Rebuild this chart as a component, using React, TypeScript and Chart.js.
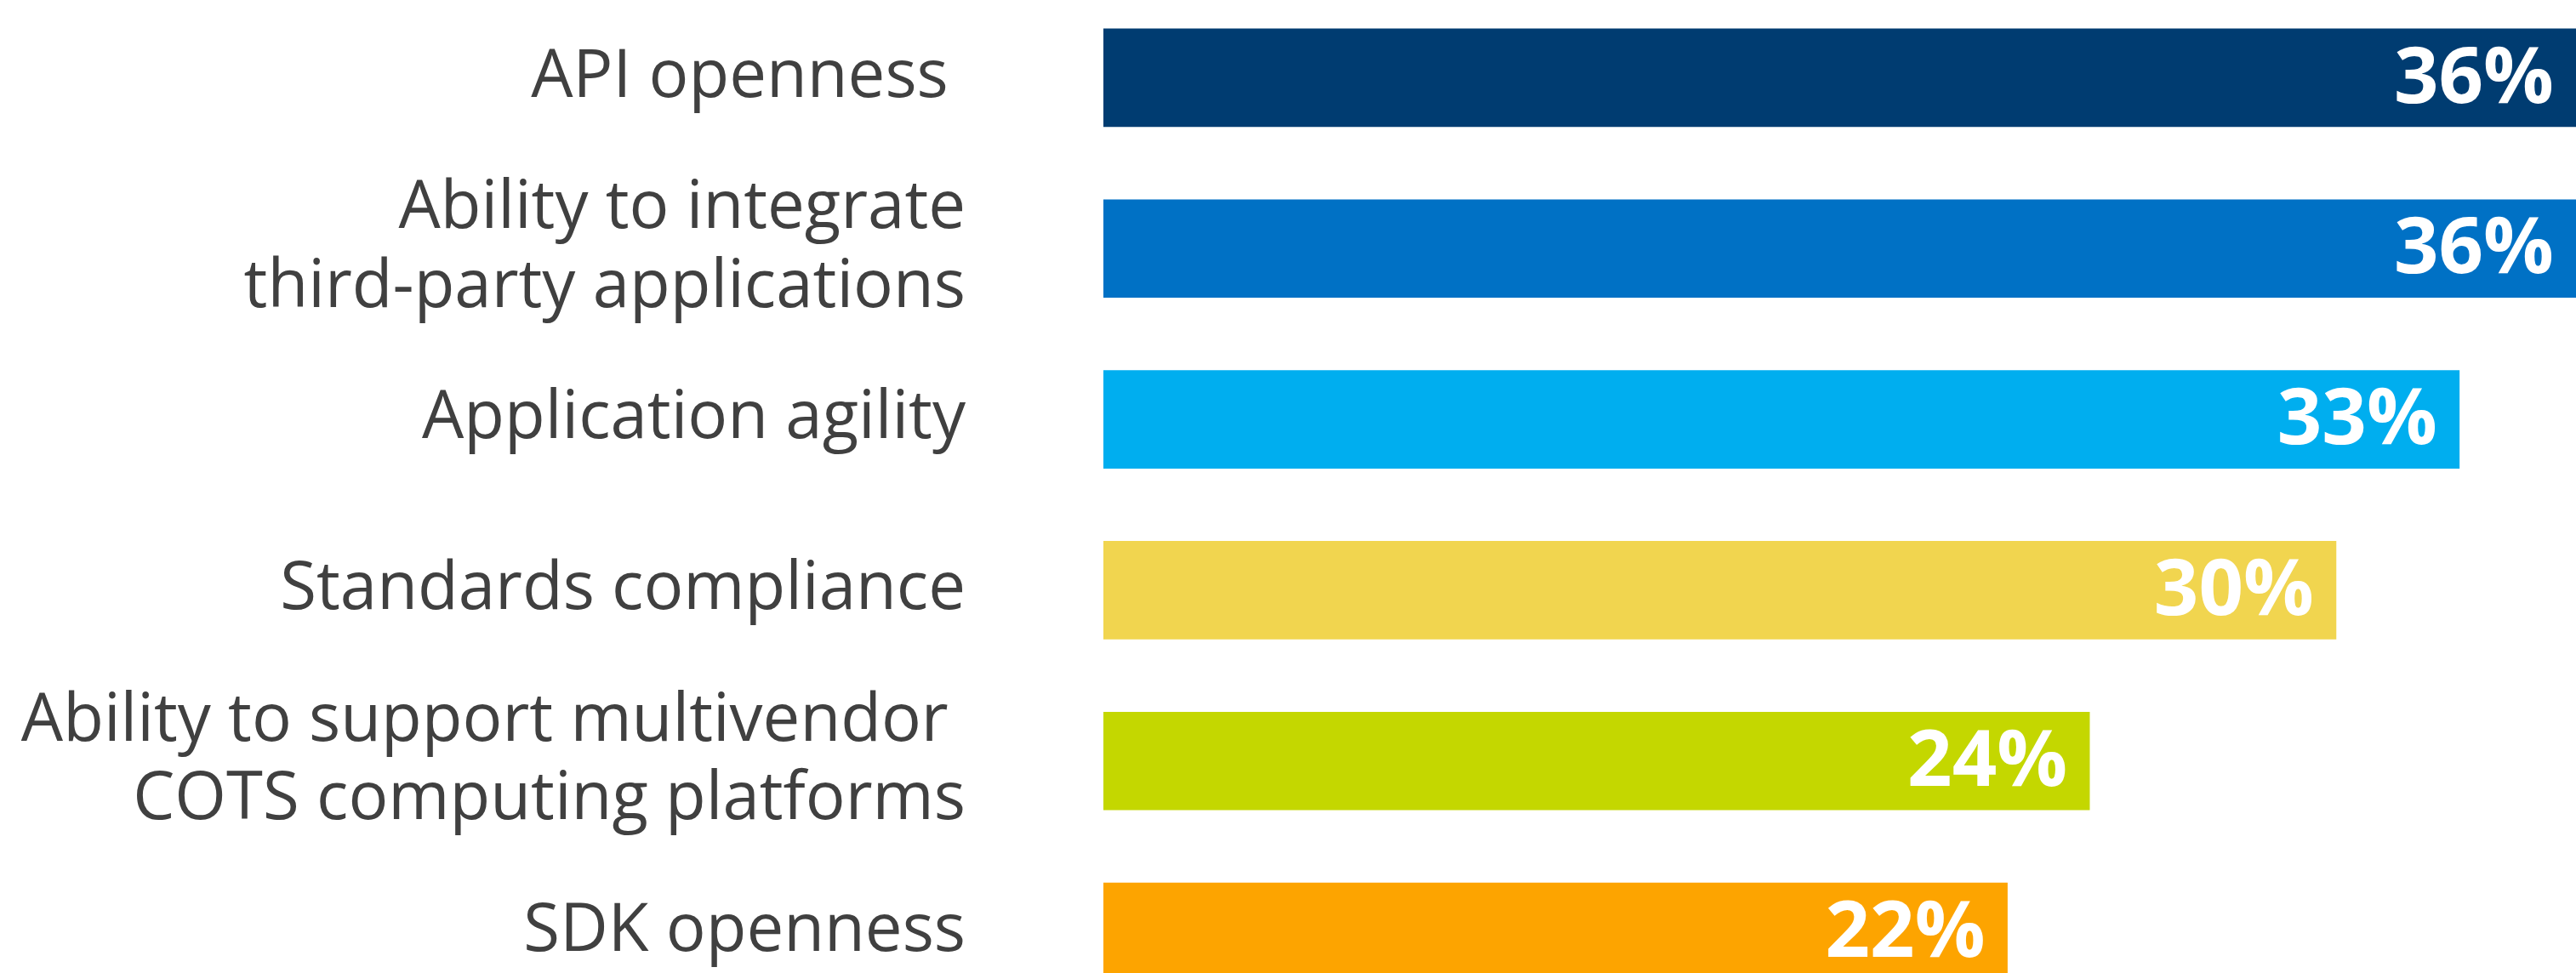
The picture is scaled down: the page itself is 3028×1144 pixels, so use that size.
import { useEffect, useRef } from "react";
import { Chart, registerables } from "chart.js";
import type { Plugin } from "chart.js";

Chart.register(...registerables);

const categories: (string | string[])[] = [
	"API openness ",
	["Ability to integrate", "third-party applications"],
	"Application agility",
	"Standards compliance",
	["Ability to support multivendor ", "COTS computing platforms"],
	"SDK openness",
];
const shares = [36, 36, 33, 30, 24, 22];
const barColors = ["#003C71", "#0071C5", "#00AEEF", "#F1D54F", "#C4D700", "#FDA400"];

const valueLabels: Plugin<"bar"> = {
	id: "valueLabels",
	afterDatasetsDraw(chart) {
		const { ctx, chartArea } = chart;
		const meta = chart.getDatasetMeta(0);
		ctx.save();
		ctx.font = "bold 92px 'Open Sans'";
		ctx.fillStyle = "#ffffff";
		ctx.textAlign = "right";
		ctx.textBaseline = "middle";
		meta.data.forEach((bar, i) => {
			const { x, y } = bar.getProps(["x", "y"], true) as { x: number; y: number };
			ctx.fillText(`${shares[i]}%`, Math.min(x, chartArea.right) - 26, y + 3);
		});
		ctx.restore();
	},
};

export default function App() {
	const canvasRef = useRef<HTMLCanvasElement | null>(null);

	useEffect(() => {
		if (!canvasRef.current) {
			return;
		}

		const chart = new Chart(canvasRef.current, {
			type: "bar",
			data: {
				labels: categories,
				datasets: [
					{
						data: shares,
						backgroundColor: barColors,
						barThickness: 115,
					},
				],
			},
			options: {
				indexAxis: "y",
				animation: false,
				responsive: true,
				maintainAspectRatio: false,
				layout: { padding: 0 },
				plugins: {
					legend: { display: false },
					tooltip: { enabled: false },
				},
				scales: {
					x: {
						display: false,
						min: 0,
						max: 35.84,
					},
					y: {
						grid: { display: false, drawTicks: false },
						border: { display: false },
						afterFit: (scale) => {
							// fixed label column; drop the top/bottom padding chart.js adds for tick labels
							scale.width = 1297;
							scale.paddingTop = 0;
							scale.paddingBottom = 0;
						},
						ticks: {
							color: "#404040",
							padding: 162,
							font: { family: "Open Sans", size: 78, lineHeight: 1.19 },
						},
					},
				},
			},
			plugins: [valueLabels],
		});

		return () => {
			chart.destroy();
		};
	}, []);

	return (
		<div style={{ position: "absolute", left: 0, top: -9, width: 3028, height: 1205 }}>
			<canvas ref={canvasRef} aria-label="Bar chart of shares" />
		</div>
	);
}
